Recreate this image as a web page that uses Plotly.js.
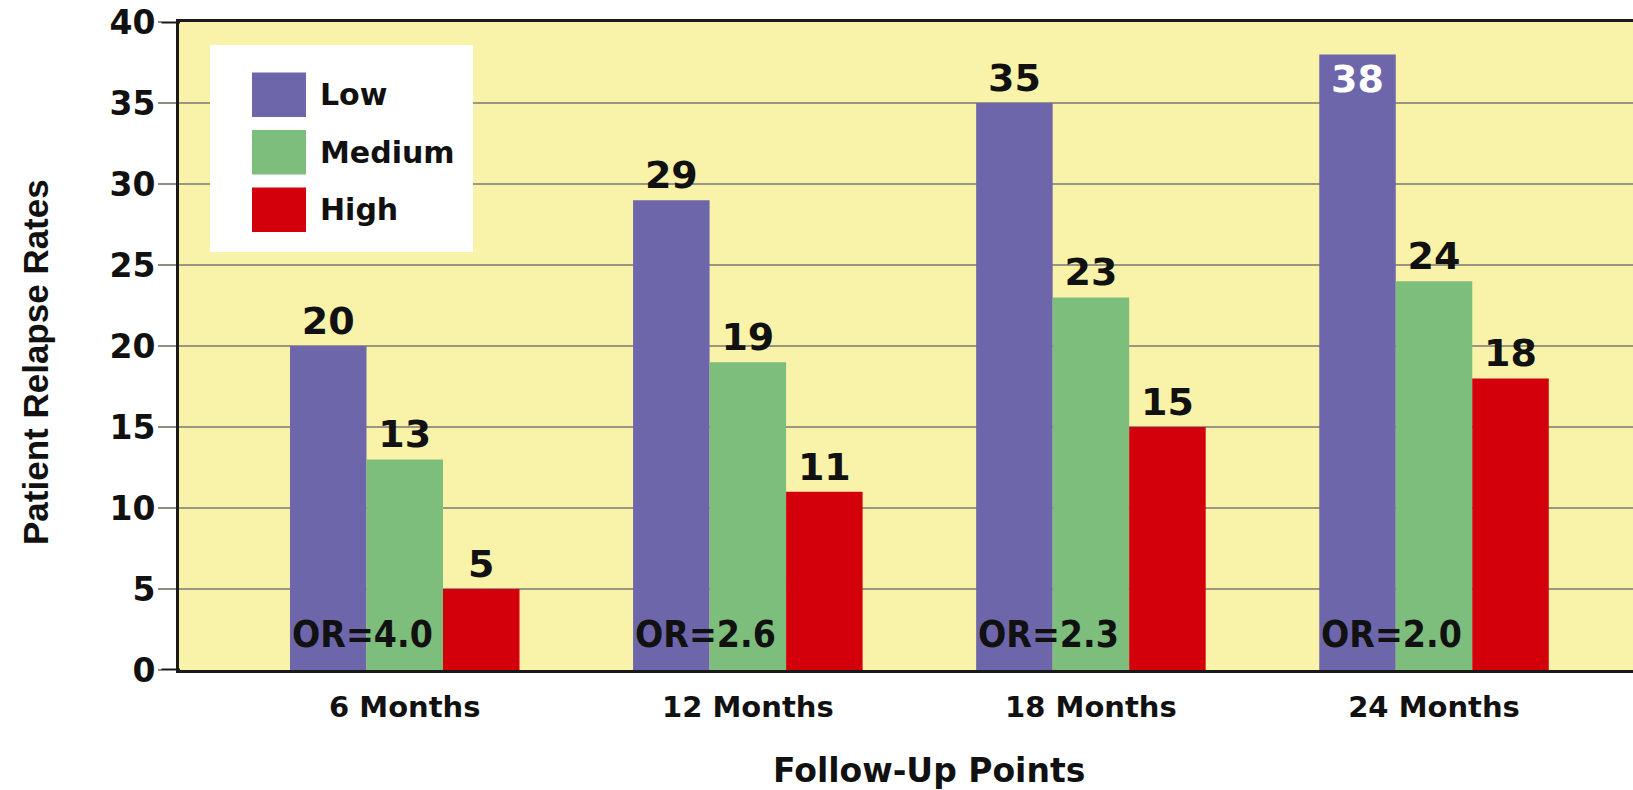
<!DOCTYPE html>
<html>
<head>
<meta charset="utf-8">
<script src="https://cdn.plot.ly/plotly-3.0.1.min.js"></script>
<style>
  html, body { margin: 0; padding: 0; background: #ffffff; }
  #chart { width: 1633px; height: 790px; }
</style>
</head>
<body>
<div id="chart"></div>
<script>
// Relapse rates by follow-up point and level
const categories = ['6 Months', '12 Months', '18 Months', '24 Months'];
const seriesNames = ['Low', 'Medium', 'High'];
const lowRates = [20, 29, 35, 38];
const mediumRates = [13, 19, 23, 24];
const highRates = [5, 11, 15, 18];
const oddsRatios = [4.0, 2.6, 2.3, 2.0];
const yTickValues = [0, 5, 10, 15, 20, 25, 30, 35, 40];

const seriesColors = ['#6E66AB', '#7DBE7D', '#D3000B'];
const seriesValues = [lowRates, mediumRates, highRates];

const W = 1633, H = 790;
const M = { l: 179, r: 0, t: 22, b: 120 };
const BARGAP = 0.331;
const Y_MAX = 40;
const px2x = p => (p - M.l) / (W - M.l - M.r);
const px2y = p => (H - M.b - p) / (H - M.t - M.b);

const boldWide = { family: 'DejaVu Sans, sans-serif', weight: 'bold', color: '#111111' };

// Bars: a value that reaches the top of the scale is labelled inside its bar in white
const traces = seriesValues.map((vals, s) => ({
  type: 'bar',
  name: seriesNames[s],
  x: categories,
  y: vals,
  marker: { color: seriesColors[s], line: { width: 0 } },
  text: vals.map(v => String(v)),
  textposition: vals.map(v => (v > Y_MAX - 3 ? 'inside' : 'outside')),
  insidetextanchor: 'end',
  textangle: 0,
  constraintext: 'none',
  cliponaxis: false,
  insidetextfont: Object.assign({}, boldWide, { size: 38, color: '#ffffff' }),
  outsidetextfont: Object.assign({}, boldWide, { size: 38, color: '#111111' }),
  hoverinfo: 'x+y+name',
  showlegend: false
}));

// Odds-ratio labels at the foot of each group
const groupHalf = (1 - BARGAP) / 2;
const annotations = oddsRatios.map((r, i) => ({
  x: i - groupHalf,
  y: 2.2,
  xref: 'x',
  yref: 'y',
  xanchor: 'left',
  yanchor: 'middle',
  text: 'OR=' + r.toFixed(1),
  showarrow: false,
  font: { family: 'DejaVu Sans Condensed, DejaVu Sans, sans-serif', weight: 'bold', size: 37, color: '#111111' }
}));

// Dark tick marks at the bottom and top of the scale
const shapes = [0, Y_MAX].map(v => ({
  type: 'line', xref: 'paper', yref: 'y', layer: 'above',
  x0: px2x(161.5), x1: px2x(180), y0: v, y1: v,
  line: { color: '#1a1a1a', width: 3 }
}));

// Legend panel
shapes.push({
  type: 'rect', xref: 'paper', yref: 'paper', layer: 'above',
  x0: px2x(210), x1: px2x(473), y0: px2y(252), y1: px2y(45),
  fillcolor: '#ffffff', line: { width: 0 }
});
const swatchTops = [72.5, 130, 187.5];
seriesNames.forEach((name, s) => {
  const top = swatchTops[s], h = 44.5;
  shapes.push({
    type: 'rect', xref: 'paper', yref: 'paper', layer: 'above',
    x0: px2x(252), x1: px2x(306), y0: px2y(top + h), y1: px2y(top),
    fillcolor: seriesColors[s], line: { width: 0 }
  });
  annotations.push({
    xref: 'paper', yref: 'paper',
    x: px2x(318), y: px2y(top + h / 2),
    xanchor: 'left', yanchor: 'middle',
    text: name, showarrow: false,
    font: Object.assign({}, boldWide, { size: 30 })
  });
});

// Axis titles
annotations.push({
  xref: 'paper', yref: 'paper',
  x: px2x(929), y: px2y(770),
  xanchor: 'center', yanchor: 'middle',
  text: 'Follow-Up Points', showarrow: false,
  font: Object.assign({}, boldWide, { size: 33 })
});
annotations.push({
  xref: 'paper', yref: 'paper',
  x: px2x(35), y: px2y(362),
  xanchor: 'center', yanchor: 'middle',
  textangle: -90,
  text: 'Patient Relapse Rates', showarrow: false,
  font: { family: 'Liberation Sans, Arial, sans-serif', weight: 'bold', size: 35, color: '#111111' }
});

const layout = {
  width: W, height: H,
  margin: M,
  paper_bgcolor: '#ffffff',
  plot_bgcolor: '#F9F3A9',
  barmode: 'group',
  bargap: BARGAP,
  bargroupgap: 0,
  showlegend: false,
  xaxis: {
    type: 'category',
    range: [-0.658, 3.58],
    showgrid: false,
    zeroline: false,
    showline: true,
    mirror: true,
    linecolor: '#1a1a1a',
    linewidth: 3,
    ticks: '',
    ticklabelstandoff: 9,
    tickfont: Object.assign({}, boldWide, { size: 29 })
  },
  yaxis: {
    range: [0, Y_MAX],
    tickvals: yTickValues,
    ticktext: yTickValues.map(String),
    showgrid: true,
    gridcolor: '#9A9682',
    gridwidth: 2,
    zeroline: false,
    showline: true,
    linecolor: '#1a1a1a',
    linewidth: 3,
    ticks: 'outside',
    ticklen: 18,
    tickwidth: 2,
    tickcolor: '#8f8c80',
    ticklabelstandoff: -4,
    tickfont: Object.assign({}, boldWide, { size: 33 })
  },
  shapes: shapes,
  annotations: annotations
};

Plotly.newPlot('chart', traces, layout, { staticPlot: true, displayModeBar: false });
</script>
</body>
</html>
